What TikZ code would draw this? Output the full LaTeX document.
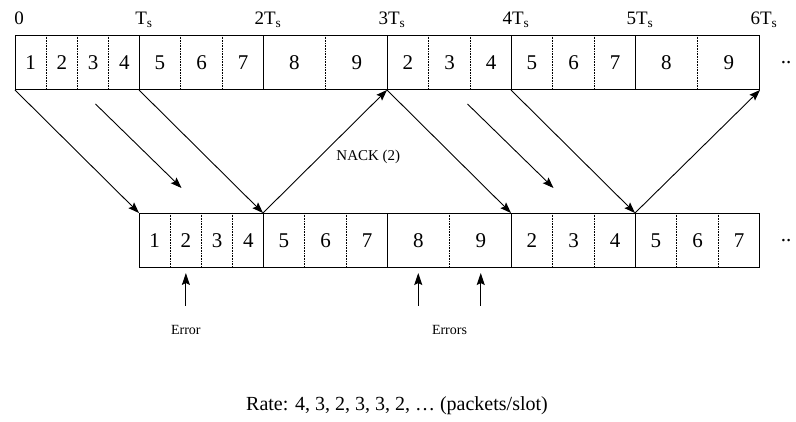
\documentclass[tikz,border=0pt]{standalone}
\usepackage{fontspec}
\setmainfont{Liberation Serif}
\usetikzlibrary{positioning,calc,arrows.meta}

\begin{document}
\begin{tikzpicture}[x=1pt,y=1pt]

	\tikzset{slotbox/.style={draw, line width=1pt, minimum width=124pt, minimum height=54pt, inner sep=0pt, anchor=north west}}
	\tikzset{pktstyle/.style={inner sep=0pt, font=\fontsize{21}{24}\selectfont}}
	\tikzset{sepline/.style={densely dotted, line width=0.6pt}}
	\tikzset{ticklabel/.style={anchor=base, inner sep=0pt, font=\fontsize{19}{22}\selectfont}}
	\tikzset{pktarrow/.style={-{Stealth[length=11pt,width=8pt,inset=2pt]}, line width=0.9pt}}
	\tikzset{errarrow/.style={-{Stealth[length=12pt,width=8pt,inset=2pt]}, line width=1.1pt}}
	\tikzset{errstyle/.style={inner sep=0pt, font=\fontsize{14}{16}\selectfont}}
	\tikzset{nackstyle/.style={inner sep=0pt, font=\fontsize{15}{18}\selectfont}}

	\useasboundingbox (0,0) rectangle (796,-422);

	\newcommand\pktSlot[5] % {name}{x}{y}{first packet}{packets}
	{
		\node[slotbox] at (#2,#3) (#1) {};
		\foreach \i in {1,...,#5}
		{
			\pgfmathtruncatemacro\pktNo{#4+\i-1}
			\node[pktstyle] at ($(#1.west)!{(\i-0.5)/#5}!(#1.east)$) (#1p\i) {\pktNo};
		}
		\foreach \i in {2,...,#5}
		{
			\draw[sepline]
			($(#1.north west)!{(\i-1)/#5}!(#1.north east)$) --
			($(#1.south west)!{(\i-1)/#5}!(#1.south east)$);
		}
	}

	% sender
	\pktSlot{t1}{15}{-35}{1}{4}
	\pktSlot{t2}{139}{-35}{5}{3}
	\pktSlot{t3}{263}{-35}{8}{2}
	\pktSlot{t4}{387}{-35}{2}{3}
	\pktSlot{t5}{511}{-35}{5}{3}
	\pktSlot{t6}{635}{-35}{8}{2}

	% receiver
	\pktSlot{b1}{139}{-213}{1}{4}
	\pktSlot{b2}{263}{-213}{5}{3}
	\pktSlot{b3}{387}{-213}{8}{2}
	\pktSlot{b4}{511}{-213}{2}{3}
	\pktSlot{b5}{635}{-213}{5}{3}

	\node[ticklabel] at ([shift={(4,10)}]t1.north west) (tick0) {0};
	\foreach \k/\lbl in {1/T, 2/2T, 3/3T, 4/4T, 5/5T, 6/6T}
	{
		\node[ticklabel] at ([shift={(4,10)}]t\k.north east) (tick\k) {\lbl\textsubscript{s}};
	}

	\node[pktstyle] at ([xshift=26]t6.east) (moreTop) {..};
	\node[pktstyle] at ([xshift=26]b5.east) (moreBot) {..};

	\draw[pktarrow] (t1.south west) -- (b1.north west);
	\draw[pktarrow] (t2.south west) -- (b2.north west);
	\draw[pktarrow] (b2.north west) -- (t4.south west)
		node[nackstyle, midway, right=11pt, yshift=-5pt] (nack) {NACK (2)};
	\draw[pktarrow] (t4.south west) -- (b4.north west);
	\draw[pktarrow] (t5.south west) -- (b5.north west);
	\draw[pktarrow] (b5.north west) -- (t6.south east);

	\foreach \k in {1,4}
	{
		\coordinate (s\k a) at ([shift={(18,-14)}]t\k.south);
		\coordinate (s\k b) at ([shift={(-20,25)}]b\k.north);
		\draw[pktarrow] (s\k a) -- (s\k b);
	}

	% lost packets
	\coordinate (e1) at ([yshift=-38]b1p2 |- b1.south);
	\coordinate (e2) at ([yshift=-38]b3p1 |- b3.south);
	\coordinate (e3) at ([yshift=-38]b3p2 |- b3.south);
	\coordinate (e23) at ($(e2)!0.5!(e3)$);
	\draw[errarrow] (e1) -- ([yshift=-5]b1p2 |- b1.south);
	\draw[errarrow] (e2) -- ([yshift=-5]b3p1 |- b3.south);
	\draw[errarrow] (e3) -- ([yshift=-5]b3p2 |- b3.south);
	\node[errstyle, below=19pt of e1] (err1) {Error};
	\node[errstyle, below=19pt of e23] (err23) {Errors};

	\node[inner sep=0pt, font=\fontsize{20}{24}\selectfont] at (397,-406) (rate) {Rate: 4, 3, 2, 3, 3, 2, … (packets/slot)};
\end{tikzpicture}
\end{document}
